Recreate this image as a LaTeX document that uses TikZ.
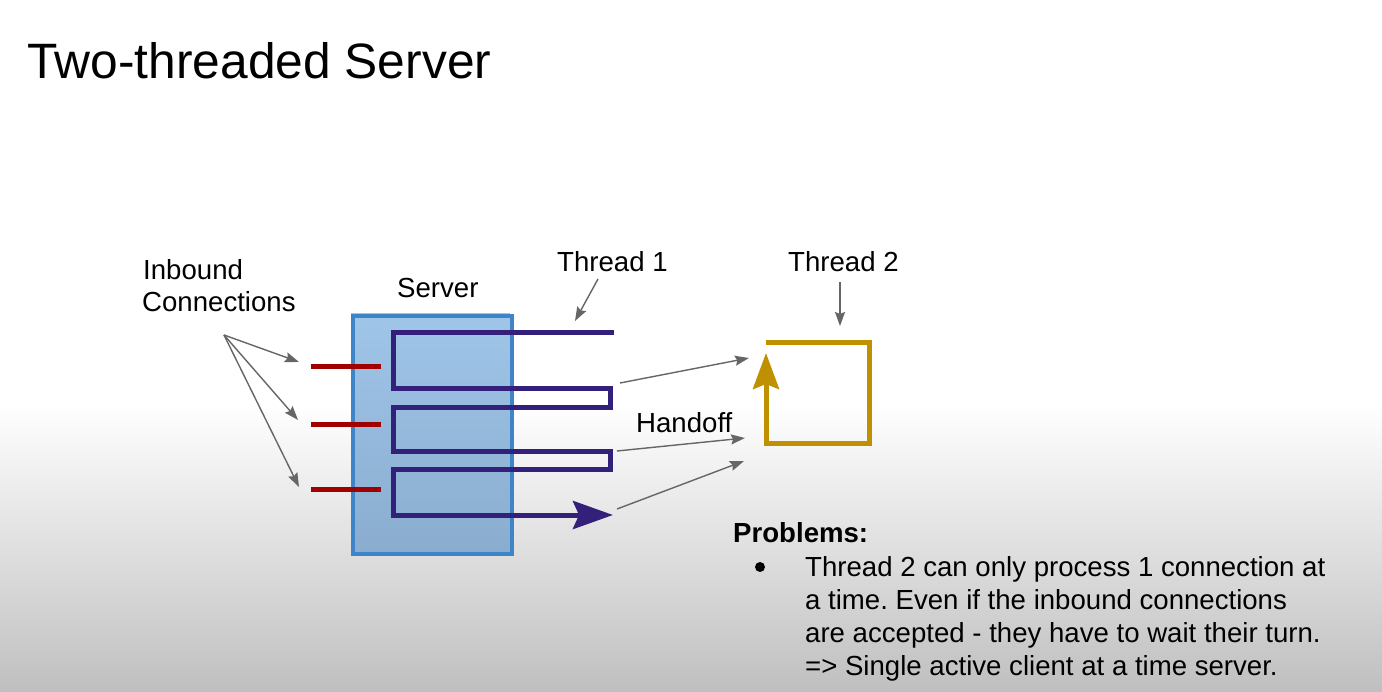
\documentclass[tikz,border=0pt]{standalone}
\usepackage{fontspec}
\setmainfont{Liberation Sans}
\usetikzlibrary{arrows.meta}
\frenchspacing

\definecolor{serverfill}{HTML}{9FC5E8}
\definecolor{serverfilldark}{HTML}{8AADCF}
\definecolor{serveredge}{HTML}{3D85C6}
\definecolor{threadone}{HTML}{33207A}
\definecolor{threadtwo}{HTML}{BF9000}
\definecolor{inbound}{HTML}{A00000}
\definecolor{pointer}{HTML}{666666}

\begin{document}
\begin{tikzpicture}[x=1pt,y=-1pt,
  txt/.style={inner sep=0pt, anchor=base west, font=\fontsize{27.6}{33}\selectfont},
  pointerarrow/.style={draw=pointer, line width=1.4pt,
    -{Stealth[length=14pt,width=10pt,inset=2pt]}},
  connline/.style={draw=inbound, line width=5pt},
  threadline/.style={draw=threadone, line width=5pt, line join=miter},
  loopline/.style={draw=threadtwo, line width=5pt, line join=miter}]

\useasboundingbox (0,0) rectangle (1382,692);

% background: white fading to grey at the bottom
\fill[white] (0,0) rectangle (1382,692);
\shade[top color=white, bottom color=black!25] (0,405) rectangle (1382,692);

% title
\node[txt, font=\fontsize{49.7}{56}\selectfont] (title) at (27,79) {Two-threaded Server};

% server box
\shade[top color=serverfill, bottom color=serverfilldark]
  (351,314) rectangle (510,552);
\node[draw=serveredge, line width=4pt, inner sep=0pt, minimum width=159pt,
  minimum height=238pt, anchor=north west] (server) at (351,314) {};
\node[txt] (serverlbl) at (397,298) {Server};

% inbound connections
\coordinate (c1a) at (311,367); \coordinate (c1b) at (381,367);
\coordinate (c2a) at (311,425); \coordinate (c2b) at (381,425);
\coordinate (c3a) at (311,489); \coordinate (c3b) at (381,489);
\draw[connline] (c1a) -- (c1b);
\draw[connline] (c2a) -- (c2b);
\draw[connline] (c3a) -- (c3b);

\node[txt] (inb1) at (143,280) {Inbound};
\node[txt] (inb2) at (142,312) {Connections};
\coordinate (inbsrc) at (224,335);
\coordinate (inbt1) at (299,362);
\coordinate (inbt2) at (298,420);
\coordinate (inbt3) at (299,487);
\draw[pointerarrow] (inbsrc) -- (inbt1);
\draw[pointerarrow] (inbsrc) -- (inbt2);
\draw[pointerarrow] (inbsrc) -- (inbt3);

% thread 1 winding through the server
\coordinate (t1start) at (614,333);
\coordinate (t1end) at (613,515);
\draw[threadline, -{Stealth[length=40pt,width=28pt,inset=6pt]}]
  (t1start) -- (393,333) -- (393,389) -- (610,389) -- (610,408) -- (393,408)
  -- (393,452) -- (610,452) -- (610,470) -- (393,470) -- (393,515) -- (t1end);

\node[txt] (t1lbl) at (557,272) {Thread 1};
\coordinate (t1from) at (598,279);
\coordinate (t1to) at (575,321);
\draw[pointerarrow] (t1from) -- (t1to);

% thread 2 loop
\coordinate (t2start) at (766,343);
\coordinate (t2end) at (766,353);
\draw[loopline, -{Stealth[length=36pt,width=26pt,inset=5pt]}]
  (t2start) -- (869,343) -- (869,444) -- (766,444) -- (t2end);

\node[txt] (t2lbl) at (788,272) {Thread 2};
\coordinate (t2from) at (840,282);
\coordinate (t2to) at (840,326);
\draw[pointerarrow] (t2from) -- (t2to);

% handoff from thread 1 to thread 2
\node[txt] (handoff) at (636,433) {Handoff};
\coordinate (h1a) at (620,383); \coordinate (h1b) at (749,358);
\coordinate (h2a) at (617,451); \coordinate (h2b) at (745,438);
\coordinate (h3a) at (617,509); \coordinate (h3b) at (744,461);
\draw[pointerarrow] (h1a) -- (h1b);
\draw[pointerarrow] (h2a) -- (h2b);
\draw[pointerarrow] (h3a) -- (h3b);

% problems
\node[txt, font=\fontsize{27.6}{33}\selectfont\bfseries] (probs) at (733,542) {Problems:};
\coordinate (bullet) at (760,567);
\fill[black] (bullet) circle (5pt);
\node[txt] (p1) at (805,576) {Thread 2 can only process 1 connection at};
\node[txt] (p2) at (805,609) {a time. Even if the inbound connections};
\node[txt] (p3) at (805,642) {are accepted - they have to wait their turn.};
\node[txt] (p4) at (805,675) {=> Single active client at a time server.};

\end{tikzpicture}
\end{document}
